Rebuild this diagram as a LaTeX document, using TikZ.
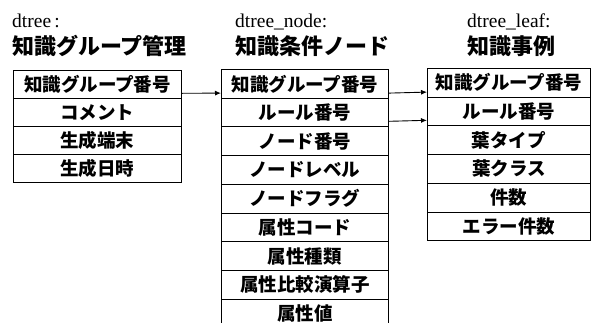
\documentclass[tikz,border=0pt]{standalone}
\usepackage{fontspec}
\setmainfont{Liberation Serif}
\newfontfamily\jp{Noto Sans CJK JP}
\usetikzlibrary{arrows.meta,calc}
\begin{document}
\begin{tikzpicture}[x=1pt,y=-1pt,
  cell/.style={draw, line width=0.9pt, inner sep=0pt, anchor=north west,
    font=\jp\bfseries\fontsize{18.5}{18.5}\selectfont},
  ttl/.style={anchor=base west, inner sep=0pt, font=\fontsize{19.5}{19.5}\selectfont},
  jttl/.style={anchor=base west, inner sep=0pt, font=\jp\bfseries\fontsize{22}{22}\selectfont},
  arr/.style={line width=0.9pt, -{Latex[length=6pt,width=5pt]}}]
\useasboundingbox (0,0) rectangle (592,322);
\clip (0,0) rectangle (592,322);
% titles
\node[ttl] (t1) at (12,27) {dtree\,:};
\node[ttl] (t2) at (235,27) {dtree\_node:};
\node[ttl] (t3) at (467,27) {dtree\_leaf:};
\node[jttl] (j1) at (12,54) {知識グループ管理};
\node[jttl] (j2) at (235,54) {知識条件ノード};
\node[jttl] (j3) at (467,54) {知識事例};
% left table
\foreach \t [count=\i] in {知識グループ番号,コメント,生成端末,生成日時}
  \node[cell, minimum width=168pt, minimum height=27.9pt] (l\i) at (13,{70+(\i-1)*27.9}) {\t};
% middle table
\foreach \t [count=\i] in {知識グループ番号,ルール番号,ノード番号,ノードレベル,ノードフラグ,属性コード,属性種類,属性比較演算子,属性値}
  \node[cell, minimum width=167pt, minimum height=28.7pt] (m\i) at (221,{69+(\i-1)*28.7}) {\t};
% right table
\foreach \t [count=\i] in {知識グループ番号,ルール番号,葉タイプ,葉クラス,件数,エラー件数}
  \node[cell, minimum width=163pt, minimum height=28.7pt] (r\i) at (427,{68+(\i-1)*28.7}) {\t};
% connectors
\draw[arr] ($(l1.south east)+(0,-5.5)$) -- ($(m1.south west)+(0,-5.5)$);
\draw[arr] ($(m1.south east)+(0,-5.5)$) -- ($(r1.south west)+(0,-5.5)$);
\draw[arr] ($(m2.south east)+(0,-6)$) -- ($(r2.south west)+(0,-6)$);
\end{tikzpicture}
\end{document}
